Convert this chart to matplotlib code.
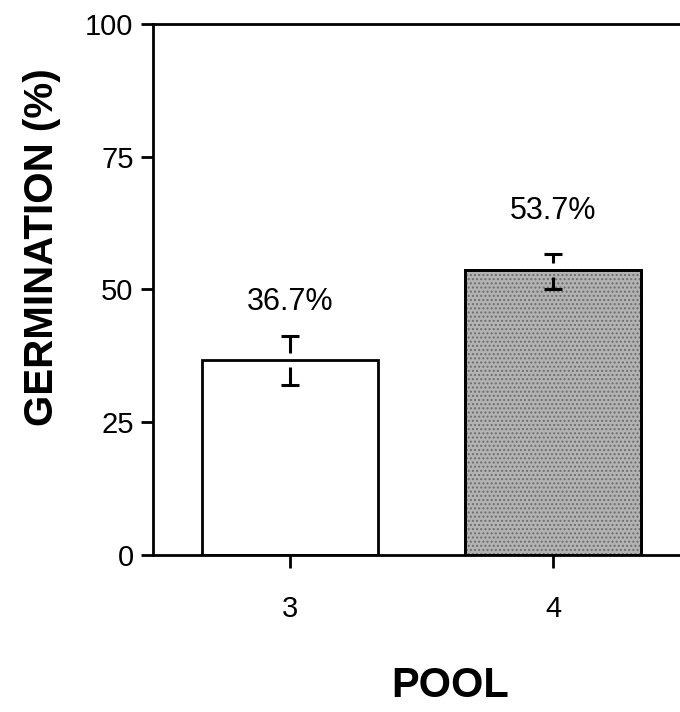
import numpy as np
import matplotlib
matplotlib.use("Agg")
import matplotlib.pyplot as plt

plt.rcParams["font.family"] = ["Liberation Sans", "DejaVu Sans"]

# ── Data ──────────────────────────────────────────────────────────────────────
pools = [3, 4]
germination = [36.7, 53.7]
err_up = [4.6, 3.0]
err_down = [4.6, 3.6]
labels = ["36.7%", "53.7%"]
y_ticks = [0, 25, 50, 75, 100]

# ── Figure ────────────────────────────────────────────────────────────────────
fig = plt.figure(figsize=(6.8, 7.12), dpi=100)
ax = fig.add_axes([0.225, 0.2205, 0.775, 0.7458])

LW = 2.0
bar_w = 0.67

ax.bar(pools[0], germination[0], width=bar_w, color="white",
       edgecolor="black", linewidth=LW, zorder=2)
ax.bar(pools[1], germination[1], width=bar_w, color="#b3b3b3",
       edgecolor="black", linewidth=LW, zorder=2)
# stipple texture on the grey bar
ax.bar(pools[1], germination[1], width=bar_w, color="none",
       edgecolor="#6e6e6e", linewidth=0, hatch="....", zorder=2.5)
ax.bar(pools[1], germination[1], width=bar_w, color="none",
       edgecolor="black", linewidth=LW, zorder=2.6)

# error bars with a small gap at the bar top
gap = 1.3
cap = 0.034
for x, m, eu, ed in zip(pools, germination, err_up, err_down):
    ax.vlines(x, m + gap, m + eu, color="black", lw=2.2, zorder=3)
    ax.vlines(x, m - ed, m - gap, color="black", lw=2.2, zorder=3)
    ax.hlines([m + eu, m - ed], x - cap, x + cap, color="black", lw=2.2, zorder=3)

for x, m, t in zip(pools, germination, labels):
    ax.text(x, m + 11, t, ha="center", va="center", fontsize=22)

ax.set_xlim(2.479, 4.483)
ax.set_ylim(0, 100)
ax.set_xticks(pools)
ax.set_yticks(y_ticks)
ax.tick_params(axis="both", direction="out", length=9, width=LW,
               labelsize=21, pad=5)
ax.tick_params(axis="x", pad=20)

for s in ["left", "bottom", "top"]:
    ax.spines[s].set_linewidth(LW)
ax.spines["right"].set_visible(False)

fig.text(0.062, 0.653, "GERMINATION (%)", rotation=90, ha="center",
         va="center", fontsize=29, fontweight="bold")
fig.text(0.662, 0.036, "POOL", ha="center", va="center",
         fontsize=30, fontweight="bold")

fig.savefig("out.png", dpi=100)
